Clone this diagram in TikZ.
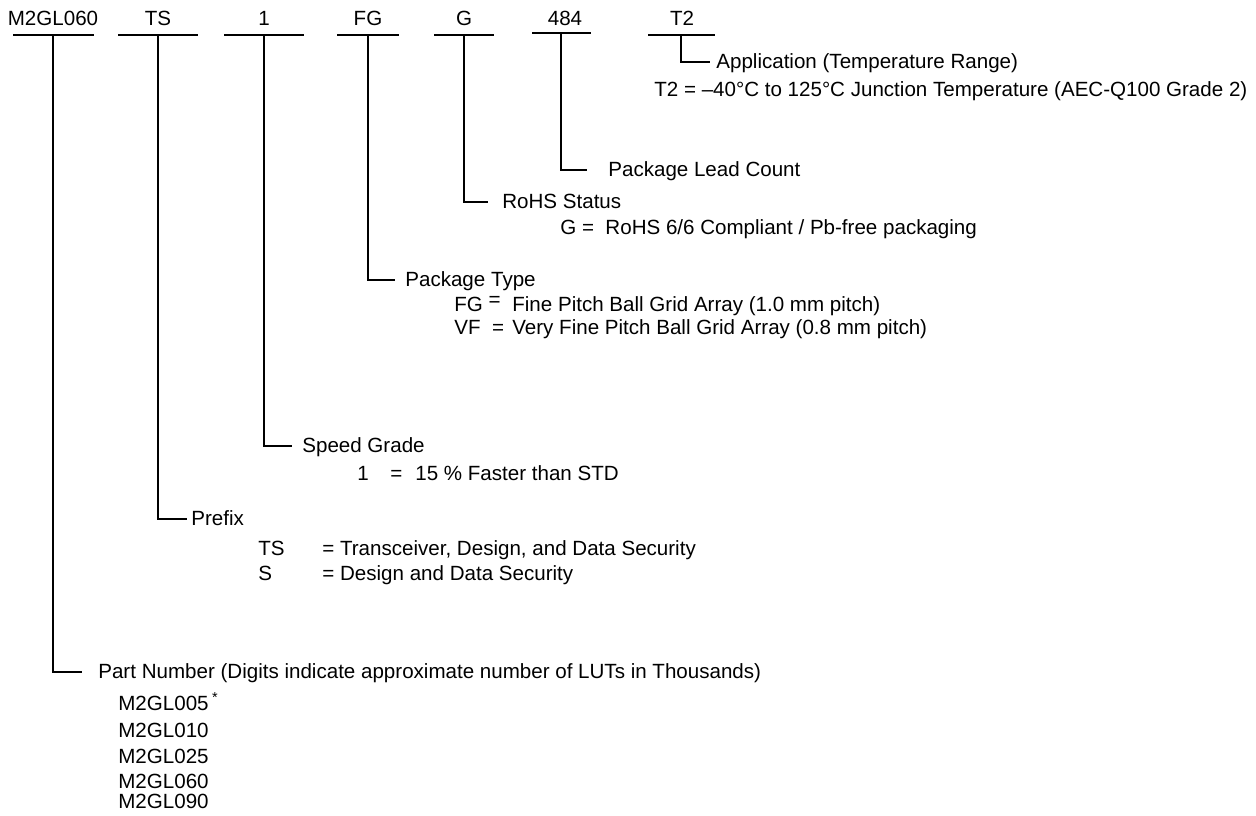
\documentclass[tikz,border=0pt]{standalone}
\usepackage{fontspec}
\setmainfont{Liberation Sans}
\usepackage{tikz}

\begin{document}
\begin{tikzpicture}[
  font=\fontsize{11.7}{14}\selectfont,
  code/.style={anchor=base,inner sep=0pt},
  bar/.style={fill=black,inner sep=0pt,minimum height=1.1pt},
  desc/.style={anchor=west,inner sep=0pt,text height=0.72em,text depth=0pt},
  lead/.style={draw=black,line width=1.1pt}
]
\useasboundingbox[fill=white] (0,0) rectangle (25.12,-16.30);

\node[code] (cPN)   at (1.06,-0.50)  {M2GL060};
\node[code] (cTS)   at (3.16,-0.50)  {TS};
\node[code] (cOne)  at (5.28,-0.50)  {1};
\node[code] (cFG)   at (7.36,-0.50)  {FG};
\node[code] (cG)    at (9.28,-0.50)  {G};
\node[code] (cLead) at (11.30,-0.50) {484};
\node[code] (cT2)   at (13.64,-0.50) {T2};

\node[bar,minimum width=1.62cm] (bPN)   at (1.06,-0.70)  {};
\node[bar,minimum width=1.60cm] (bTS)   at (3.16,-0.70)  {};
\node[bar,minimum width=1.60cm] (bOne)  at (5.28,-0.70)  {};
\node[bar,minimum width=1.24cm] (bFG)   at (7.36,-0.70)  {};
\node[bar,minimum width=1.20cm] (bG)    at (9.28,-0.70)  {};
\node[bar,minimum width=1.18cm] (bLead) at (11.22,-0.66) {};
\node[bar,minimum width=1.34cm] (bT2)   at (13.62,-0.70) {};

\node[desc] (app)    at (14.32,-1.24) {Application (Temperature Range)};
\node[desc] (t2val)  at (13.08,-1.80) {T2 = –40°C to 125°C Junction Temperature (AEC-Q100 Grade 2)};
\node[desc] (lead)   at (12.16,-3.40) {Package Lead Count};
\node[desc] (rohs)   at (10.04,-4.04) {RoHS Status};
\node[desc] (gval)   at (11.20,-4.56) {G =\ \ RoHS 6/6 Compliant / Pb-free packaging};
\node[desc] (pkg)    at (8.10,-5.60)  {Package Type};
\node[desc] (fgval)  at (9.08,-6.10)  {\makebox[1.16cm][l]{FG \raisebox{.25em}{=}}Fine Pitch Ball Grid Array (1.0 mm pitch)};
\node[desc] (vfval)  at (9.08,-6.56)  {\makebox[1.16cm][l]{VF\ \ =}Very Fine Pitch Ball Grid Array (0.8 mm pitch)};
\node[desc] (speed)  at (6.04,-8.92)  {Speed Grade};
\node[desc] (oneval) at (7.14,-9.48)  {\makebox[0.66cm][l]{1}=\hspace{0.26cm}15 \% Faster than STD};
\node[desc] (prefix) at (3.82,-10.38) {Prefix};
\node[desc] (tsval)  at (5.16,-10.98) {\makebox[1.28cm][l]{TS}= Transceiver, Design, and Data Security};
\node[desc] (sval)   at (5.16,-11.48) {\makebox[1.28cm][l]{S}= Design and Data Security};
\node[desc] (pnum)   at (1.96,-13.44) {Part Number (Digits indicate approximate number of LUTs in Thousands)};

\foreach \dev/\yy [count=\i] in {M2GL005\,\textsuperscript{*}/-14.08,M2GL010/-14.62,M2GL025/-15.14,M2GL060/-15.64,M2GL090/-16.04}
  \node[desc] (dev\i) at (2.36,\yy) {\dev};

\draw[lead,shorten >=0.12cm] (bT2.center)   |- (app.west);
\draw[lead,shorten >=0.42cm] (bLead.center) |- (lead.west);
\draw[lead,shorten >=0.28cm] (bG.center)    |- (rohs.west);
\draw[lead,shorten >=0.20cm] (bFG.center)   |- (pkg.west);
\draw[lead,shorten >=0.20cm] (bOne.center)  |- (speed.west);
\draw[lead,shorten >=0.08cm] (bTS.center)   |- (prefix.west);
\draw[lead,shorten >=0.32cm] (bPN.center)   |- (pnum.west);
\end{tikzpicture}
\end{document}
